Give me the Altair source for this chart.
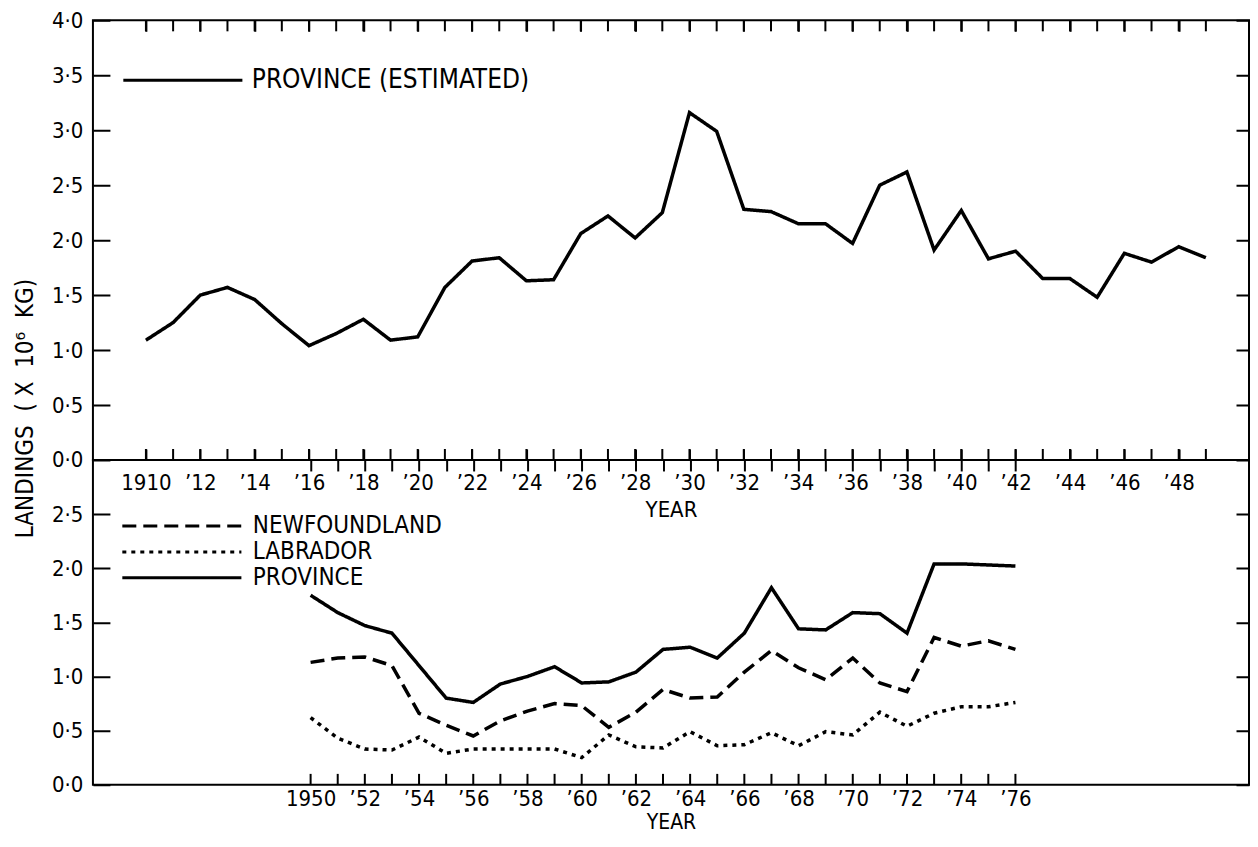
import altair as alt
import pandas as pd

# ---------------- data ----------------
years_top = list(range(1910, 1950))
province_est = [1.09, 1.25, 1.50, 1.57, 1.46, 1.24, 1.04, 1.15, 1.28, 1.09,
                1.12, 1.57, 1.81, 1.84, 1.63, 1.64, 2.06, 2.22, 2.02, 2.25,
                3.16, 2.99, 2.28, 2.26, 2.15, 2.15, 1.97, 2.50, 2.62, 1.91,
                2.27, 1.83, 1.90, 1.65, 1.65, 1.48, 1.88, 1.80, 1.94, 1.84]

years_bot = list(range(1950, 1977))
newfoundland = [1.13, 1.17, 1.18, 1.10, 0.66, 0.55, 0.45, 0.59, 0.68, 0.75,
                0.73, 0.53, 0.67, 0.88, 0.80, 0.81, 1.04, 1.24, 1.08, 0.97,
                1.17, 0.94, 0.86, 1.36, 1.28, 1.33, 1.25]
labrador = [0.62, 0.43, 0.33, 0.32, 0.44, 0.29, 0.33, 0.33, 0.33, 0.33,
            0.25, 0.46, 0.35, 0.34, 0.49, 0.36, 0.37, 0.48, 0.36, 0.49,
            0.46, 0.67, 0.54, 0.66, 0.72, 0.72, 0.76]
province = [1.75, 1.59, 1.47, 1.40, 1.10, 0.80, 0.76, 0.93, 1.00, 1.09,
            0.94, 0.95, 1.04, 1.25, 1.27, 1.17, 1.40, 1.82, 1.44, 1.43,
            1.59, 1.58, 1.40, 2.04, 2.04, 2.03, 2.02]

top_series = ["PROVINCE (ESTIMATED)"]
bot_series = ["NEWFOUNDLAND", "LABRADOR", "PROVINCE"]

top_y_labels = [0.0, 0.5, 1.0, 1.5, 2.0, 2.5, 3.0, 3.5, 4.0]
bot_y_labels = [0.0, 0.5, 1.0, 1.5, 2.0, 2.5]

NB = "\u00a0"
y_title = f"LANDINGS{NB}{NB}({NB}X{NB}{NB}10\u2076{NB}{NB}KG)"

# ---------------- layout / style ----------------
FONT = "DejaVu Sans Condensed, DejaVu Sans, sans-serif"
W = 1157
H_TOP = 440
H_BOT = 325
XDOM_TOP = [1908.05, 1908.05 + W / 27.2]
XDOM_BOT = [1941.97, 1941.97 + W / 27.13]
YDOM_TOP = [0, 4]
YDOM_BOT = [0, 3]
TICK = 0.1   # inward year-tick length, in value units (about 11 px)

LBL_Y = "replace(format(datum.value, '.1f'), '.', '\u00b7')"
LBL_X = ("(datum.value % 2 != 0) ? '' : "
         "(datum.value == 1910 || datum.value == 1950) ? toString(datum.value) : "
         "'\u2019' + substring(toString(datum.value), 2)")

df_top = pd.DataFrame({"year": years_top, "value": province_est,
                       "series": top_series[0]})
df_bot = pd.concat([
    pd.DataFrame({"year": years_bot, "value": newfoundland, "series": bot_series[0]}),
    pd.DataFrame({"year": years_bot, "value": labrador, "series": bot_series[1]}),
    pd.DataFrame({"year": years_bot, "value": province, "series": bot_series[2]}),
])

# year ticks along the frame edges (start / end in value units)
ticks_top = pd.concat([
    pd.DataFrame({"year": years_top, "value": YDOM_TOP[1], "value2": YDOM_TOP[1] - TICK}),
    pd.DataFrame({"year": years_top, "value": YDOM_TOP[0], "value2": YDOM_TOP[0] + TICK}),
])
ticks_bot = pd.DataFrame({"year": years_bot, "value": YDOM_BOT[0],
                          "value2": YDOM_BOT[0] + TICK})

legend_common = dict(
    orient="none", title=None, symbolType="M-10,0H10", symbolSize=142,
    symbolStrokeWidth=3, symbolStrokeColor="black", symbolFillColor="transparent",
    labelFont=FONT, labelColor="black", padding=0, labelLimit=600,
)


def frame_ticks(dash):
    """Grid lines cut by a dash pattern: short inward ticks at the frame edges."""
    return dict(ticks=False, domain=False, grid=True, gridColor="black", gridWidth=2,
                gridOpacity=1, gridDash=dash)


# ---------------- top panel ----------------
line_top = alt.Chart(df_top).mark_line(color="black", strokeWidth=3.5).encode(
    x=alt.X("year:Q", scale=alt.Scale(domain=XDOM_TOP, nice=False, zero=False),
            axis=alt.Axis(values=years_top, labelExpr=LBL_X, title="YEAR",
                          labelPadding=13, titlePadding=6,
                          **frame_ticks([11, H_TOP - 22, 11, 3000]))),
    y=alt.Y("value:Q", scale=alt.Scale(domain=YDOM_TOP, nice=False, zero=False),
            axis=alt.Axis(values=top_y_labels, labelExpr=LBL_Y, title=y_title,
                          labelPadding=10,
                          titleX=-67, titleY=388, titleAngle=270, titleAlign="center",
                          titleBaseline="middle", titleFontSize=24,
                          **frame_ticks([17, W - 30, 13, 3000]))),
    strokeDash=alt.StrokeDash("series:N",
                              scale=alt.Scale(domain=top_series, range=[[1, 0]]),
                              legend=alt.Legend(legendX=77, legendY=47, labelFontSize=26,
                                                labelOffset=56, **legend_common)),
)
rules_top = alt.Chart(ticks_top).mark_rule(color="black", strokeWidth=2).encode(
    x="year:Q", y="value:Q", y2="value2:Q")

top = alt.layer(line_top, rules_top).properties(width=W, height=H_TOP)

# ---------------- bottom panel ----------------
line_bot = alt.Chart(df_bot).mark_line(color="black", strokeWidth=3.5).encode(
    x=alt.X("year:Q", scale=alt.Scale(domain=XDOM_BOT, nice=False, zero=False),
            axis=alt.Axis(values=years_bot, labelExpr=LBL_X, title="YEAR",
                          labelPadding=4, titlePadding=2, titleFontSize=21,
                          **frame_ticks([11, 3000]))),
    y=alt.Y("value:Q", scale=alt.Scale(domain=YDOM_BOT, nice=False, zero=False),
            axis=alt.Axis(values=bot_y_labels, labelExpr=LBL_Y, title=None,
                          labelPadding=10, **frame_ticks([17, W - 30, 13, 3000]))),
    strokeDash=alt.StrokeDash("series:N",
                              scale=alt.Scale(domain=bot_series,
                                              range=[[14, 7], [4, 5], [1, 0]]),
                              legend=alt.Legend(legendX=77, legendY=54, labelFontSize=24,
                                                labelOffset=59, rowPadding=2,
                                                **legend_common)),
    detail="series:N",
)
rules_bot = alt.Chart(ticks_bot).mark_rule(color="black", strokeWidth=2).encode(
    x="year:Q", y="value:Q", y2="value2:Q")

bottom = alt.layer(line_bot, rules_bot).properties(width=W, height=H_BOT)

chart = (
    alt.vconcat(top, bottom, spacing=0, bounds="flush")
    .resolve_scale(x="independent", y="independent", strokeDash="independent")
    .resolve_legend(strokeDash="independent")
    .properties(padding={"left": 5, "top": 0, "right": 0, "bottom": 0},
                background="white")
    .configure_view(stroke="black", strokeWidth=2)
    .configure_axis(labelFont=FONT, titleFont=FONT, labelFontSize=22, titleFontSize=22,
                    labelColor="black", titleColor="black", titleFontWeight="normal",
                    labelOverlap=False, labelFlush=False)
)

chart.save("out.html", embed_options={"renderer": "svg", "actions": False})
